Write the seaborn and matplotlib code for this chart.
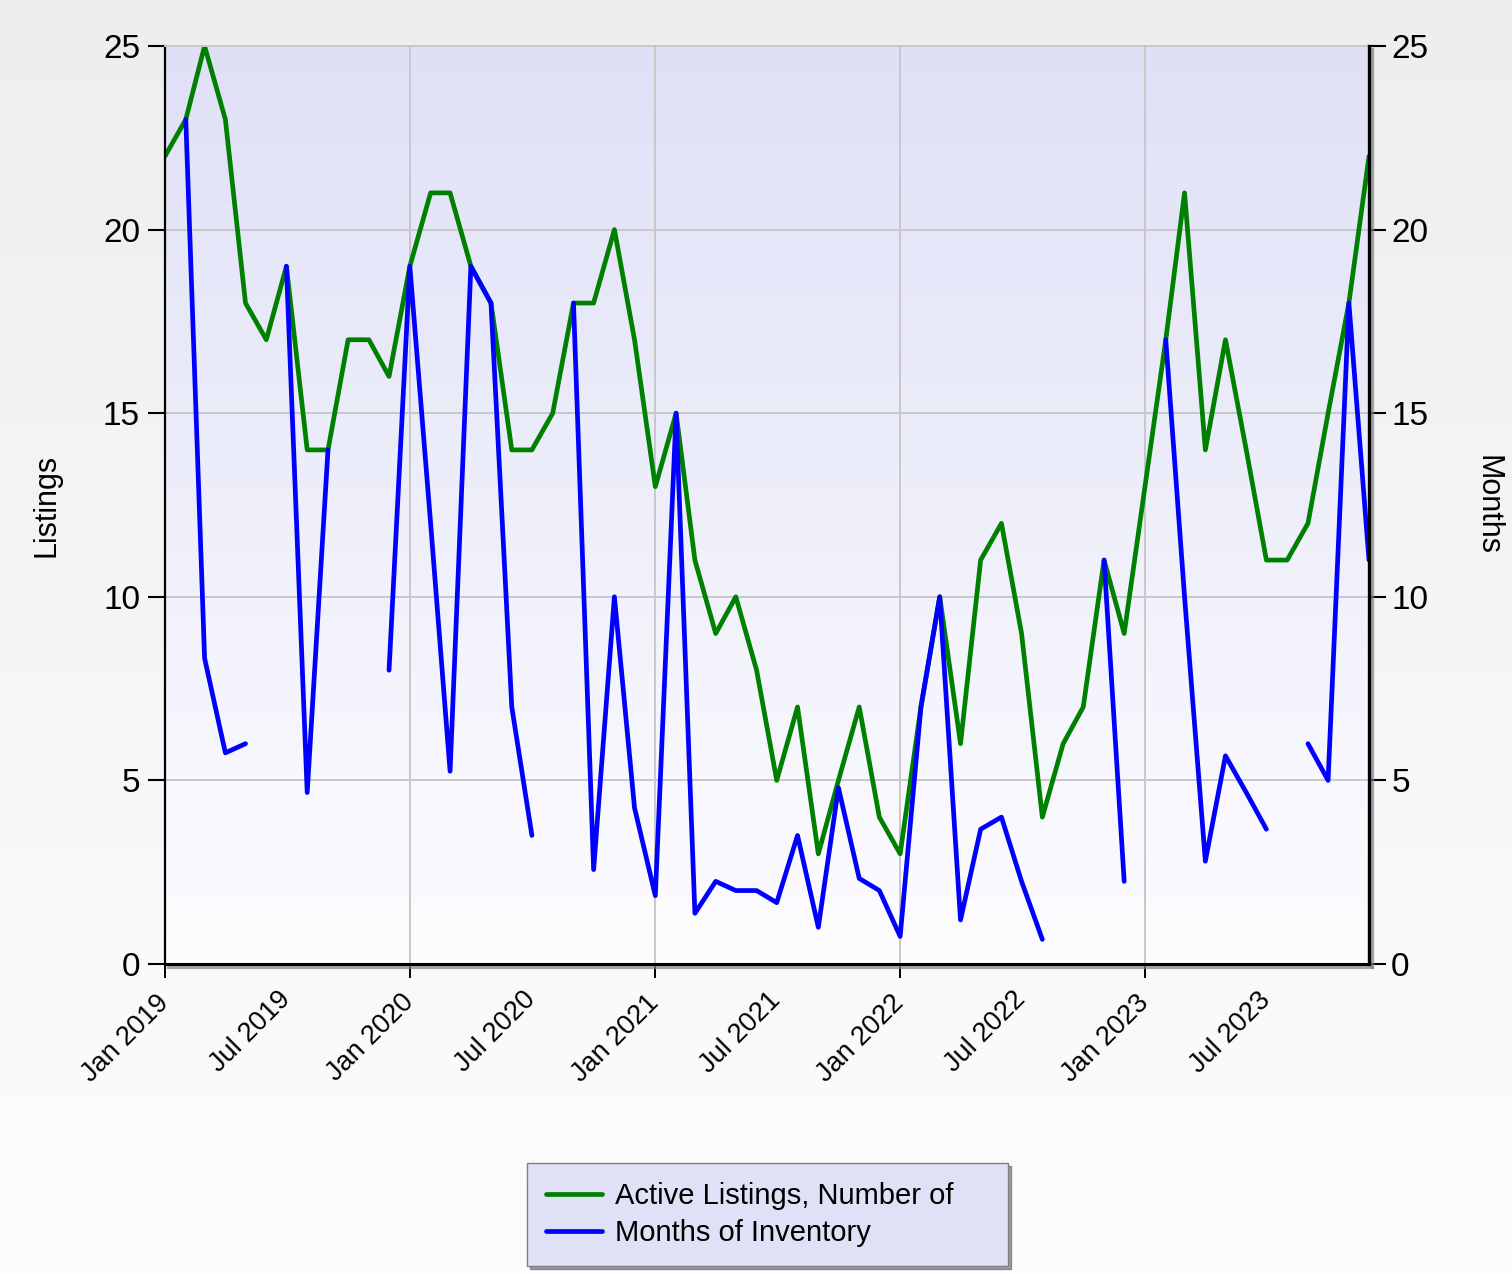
import numpy as np
import pandas as pd
import matplotlib
matplotlib.use("Agg")
import matplotlib.pyplot as plt
import matplotlib.dates as mdates
import matplotlib.patheffects as pe
from matplotlib.colors import LinearSegmentedColormap
from matplotlib.lines import Line2D
import seaborn as sns

# Monthly series, Jan 2019 - Dec 2023
months = pd.date_range("2019-01-01", periods=60, freq="MS")

active_listings = [
    22, 23, 25, 23, 18, 17, 19, 14, 14, 17, 17, 16,
    19, 21, 21, 19, 18, 14, 14, 15, 18, 18, 20, 17,
    13, 15, 11, 9, 10, 8, 5, 7, 3, 5, 7, 4,
    3, 7, 10, 6, 11, 12, 9, 4, 6, 7, 11, 9,
    13, 17, 21, 14, 17, 14, 11, 11, 12, 15, 18, 22,
]

nan = np.nan
months_of_inventory = [
    nan, 23, 8.33, 5.75, 6.0, nan, 19, 4.67, 14, nan, nan, 8,
    19, 12, 5.25, 19, 18, 7, 3.5, nan, 18, 2.57, 10, 4.25,
    1.86, 15, 1.38, 2.25, 2, 2, 1.67, 3.5, 1, 4.8, 2.33, 2,
    0.75, 7, 10, 1.2, 3.67, 4, 2.25, 0.67, nan, nan, 11, 2.25,
    nan, 17, 10, 2.8, 5.67, 4.67, 3.67, nan, 6, 5, 18, 11,
]

series_labels = ["Active Listings, Number of", "Months of Inventory"]
series_colors = ["#008000", "#0000FF"]
y_ticks = [0, 5, 10, 15, 20, 25]

listings_df = pd.DataFrame({"month": months, "value": active_listings})
moi_df = pd.DataFrame({"month": months, "value": months_of_inventory})
# months with no sales leave gaps: give each unbroken run its own unit
moi_df["run"] = moi_df["value"].isna().cumsum()
moi_df = moi_df.dropna()

sns.set_theme(style="white")
plt.rcParams["font.family"] = ["Liberation Sans", "DejaVu Sans"]
plt.rcParams.update({"text.color": "black", "axes.labelcolor": "black",
                     "xtick.color": "black", "ytick.color": "black"})

fig = plt.figure(figsize=(15.12, 12.74), dpi=100)

# page background gradient
bg = fig.add_axes([0, 0, 1, 1], zorder=-10)
page_cmap = LinearSegmentedColormap.from_list("page", ["#eeeeee", "#fdfdfd"])
bg.imshow(np.linspace(0, 1, 256)[:, None], aspect="auto", cmap=page_cmap,
          extent=[0, 1, 0, 1])
bg.axis("off")

rect = [0.10913, 0.24333, 0.79630, 0.72057]

# plot-area gradient
pa = fig.add_axes(rect, zorder=-5)
area_cmap = LinearSegmentedColormap.from_list("area", ["#dfe0f6", "#fdfdff"])
pa.imshow(np.linspace(0, 1, 256)[:, None], aspect="auto", cmap=area_cmap,
          extent=[0, 1, 0, 1])
pa.axis("off")

ax = fig.add_axes(rect)
ax.set_facecolor("none")

sns.lineplot(data=listings_df, x="month", y="value", ax=ax,
             color=series_colors[0], linewidth=3.4, legend=False)

ax2 = ax.twinx()
sns.lineplot(data=moi_df, x="month", y="value", units="run", estimator=None,
             ax=ax2, color=series_colors[1], linewidth=3.4, legend=False)

ax.set_xlim(months[0], months[-1])
ax.set_ylim(0, 25)
ax2.set_ylim(0, 25)
ax.set_yticks(y_ticks)
ax2.set_yticks(y_ticks)

ax.xaxis.set_major_locator(mdates.MonthLocator(bymonth=1))
ax.xaxis.set_minor_locator(mdates.MonthLocator(bymonth=7))
ax.xaxis.set_major_formatter(mdates.DateFormatter("%b %Y"))
ax.xaxis.set_minor_formatter(mdates.DateFormatter("%b %Y"))

ax.grid(True, which="major", color="#c8c8c8", linewidth=1.4)
ax.set_axisbelow(True)

ax.tick_params(axis="x", which="major", length=10, width=1.4, color="black",
               pad=15, labelsize=19.5, bottom=True)
ax.tick_params(axis="x", which="minor", length=0, pad=23, labelsize=19.5,
               bottom=True)
ax.tick_params(axis="y", length=12, width=1.5, color="black", pad=6,
               labelsize=24, left=True)
ax2.tick_params(axis="y", length=12, width=1.5, color="black", pad=4,
                labelsize=24, right=True)

for lab in ax.get_xticklabels(which="both"):
    lab.set_rotation(45)
    lab.set_ha("right")
    lab.set_va("center")
    lab.set_rotation_mode("anchor")

ax.set_xlabel("")
ax.set_ylabel("Listings", fontsize=22, labelpad=30)
ax2.set_ylabel("Months", fontsize=22, rotation=270, va="bottom", labelpad=32)

shadow = [pe.SimpleLineShadow(offset=(2, -2), shadow_color="#808080", alpha=0.7),
          pe.Normal()]
ax.spines["left"].set_color("black")
ax.spines["left"].set_linewidth(1.6)
ax.spines["bottom"].set_color("black")
ax.spines["bottom"].set_linewidth(2.2)
ax.spines["bottom"].set_path_effects(shadow)
ax.spines["top"].set_color("#c8c8c8")
ax.spines["top"].set_linewidth(1.4)
ax.spines["right"].set_visible(False)
for side in ["left", "top", "bottom"]:
    ax2.spines[side].set_visible(False)
ax2.spines["right"].set_color("black")
ax2.spines["right"].set_linewidth(2.4)
ax2.spines["right"].set_path_effects(shadow)

handles = [Line2D([], [], color=c, linewidth=3.4) for c in series_colors]
fig.legend(handles, series_labels, loc="upper left",
           bbox_to_anchor=(0.3485, 0.0871, 0.318, 0.0),
           bbox_transform=fig.transFigure, mode="expand", borderaxespad=0,
           frameon=True, fancybox=False, shadow=True, framealpha=1,
           facecolor="#e0e0f6", edgecolor="#808080", fontsize=21,
           handlelength=1.9, handletextpad=0.45, labelspacing=0.3,
           borderpad=0.66)

fig.savefig("out.png", dpi=100)
